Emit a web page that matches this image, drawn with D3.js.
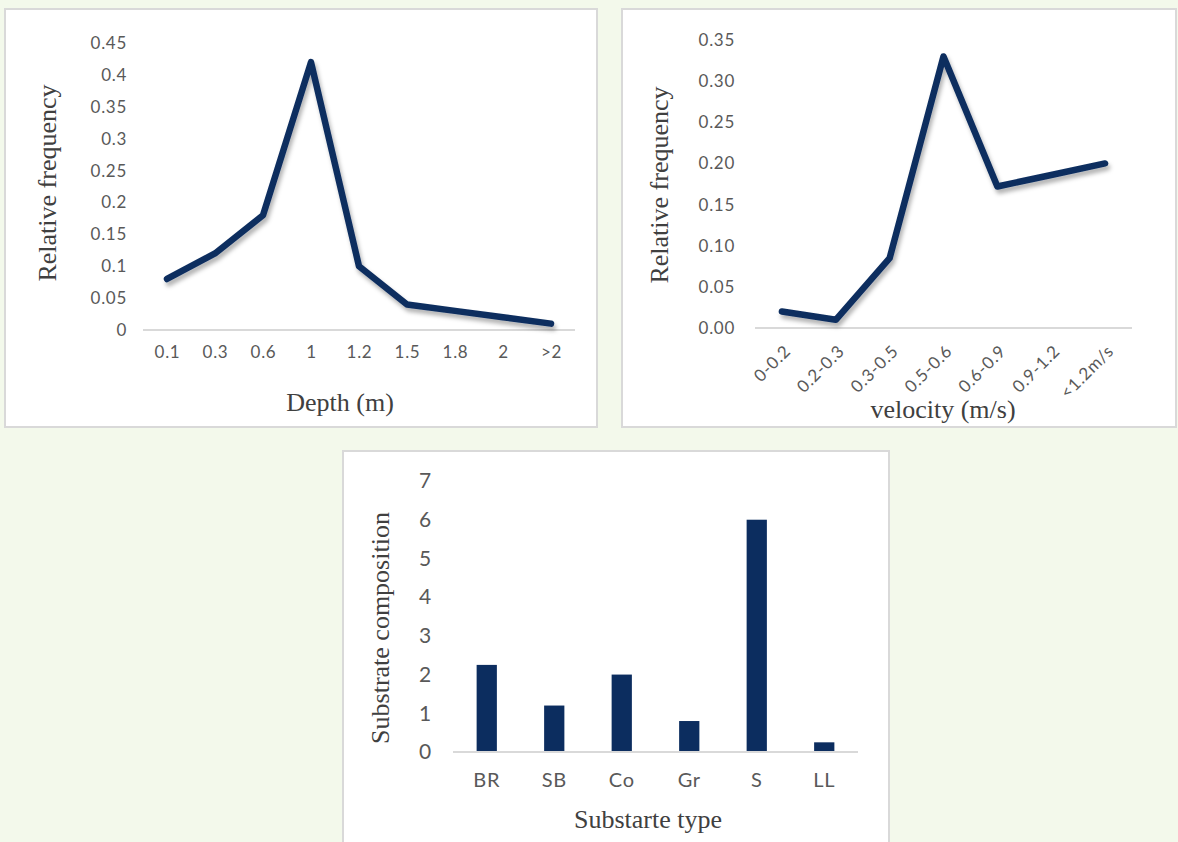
<!DOCTYPE html>
<html>
<head>
<meta charset="utf-8">
<script src="https://cdn.jsdelivr.net/npm/d3@7"></script>
<style>
  body { margin: 0; background: #f3f9eb; }
  .tick text { font-family: Lato, "Open Sans", sans-serif; font-size: 17px; fill: #595959; letter-spacing: 0.7px; }
  .title { font-family: "Liberation Serif", "Times New Roman", serif; font-size: 26px; fill: #404040; }
</style>
</head>
<body>
<script>
// Depth chart
let depthCats = ["0.1", "0.3", "0.6", "1", "1.2", "1.5", "1.8", "2", ">2"];
let depthVals = [0.08, 0.12, 0.18, 0.42, 0.10, 0.04, 0.03, 0.02, 0.01];
let depthTicks = [0, 0.05, 0.1, 0.15, 0.2, 0.25, 0.3, 0.35, 0.4, 0.45];

// Velocity chart
let velCats = ["0-0.2", "0.2-0.3", "0.3-0.5", "0.5-0.6", "0.6-0.9", "0.9-1.2", "<1.2m/s"];
let velVals = [0.02, 0.01, 0.085, 0.33, 0.172, 0.186, 0.20];
let velTicks = [0, 0.05, 0.10, 0.15, 0.20, 0.25, 0.30, 0.35];

// Substrate chart
let subCats = ["BR", "SB", "Co", "Gr", "S", "LL"];
let subVals = [2.25, 1.2, 2.0, 0.8, 6.0, 0.25];
let subTicks = [0, 1, 2, 3, 4, 5, 6, 7];

let navy = "#0c2d5f";

let svg = d3.select("body").append("svg")
    .attr("width", 1178)
    .attr("height", 842);

// drop shadow used by the lines
let defs = svg.append("defs");
defs.append("filter")
    .attr("id", "shadow")
    .attr("x", "-10%").attr("y", "-10%")
    .attr("width", "130%").attr("height", "140%")
    .append("feDropShadow")
    .attr("dx", 2).attr("dy", 4)
    .attr("stdDeviation", 2)
    .attr("flood-color", "#000")
    .attr("flood-opacity", 0.3);

// white panels
function panel(x, y, w, h) {
    svg.append("rect")
        .attr("x", x).attr("y", y)
        .attr("width", w).attr("height", h)
        .attr("fill", "#fff")
        .attr("stroke", "#d9d9d9")
        .attr("stroke-width", 2);
}
panel(5, 9, 592, 418);
panel(622, 9, 554, 418);
panel(343, 451, 546, 400);

function yAxis(y, ticks, fmt, xPos) {
    let g = svg.append("g")
        .attr("transform", "translate(" + xPos + ",0)")
        .call(d3.axisLeft(y).tickValues(ticks).tickFormat(fmt).tickSize(0).tickPadding(0));
    g.select(".domain").remove();
    return g;
}

function baseline(x0, x1, yv) {
    svg.append("line")
        .attr("x1", x0).attr("x2", x1)
        .attr("y1", yv).attr("y2", yv)
        .attr("stroke", "#d9d9d9")
        .attr("stroke-width", 2);
}

function title(text, x, y, rotate) {
    svg.append("text")
        .attr("class", "title")
        .attr("text-anchor", "middle")
        .attr("transform", "translate(" + x + "," + y + ")" + (rotate ? " rotate(-90)" : ""))
        .text(text);
}

// ---- Depth ----
let x1 = d3.scalePoint().domain(depthCats).range([143, 575]).padding(0.5);
let y1 = d3.scaleLinear().domain([0, 0.45]).range([330, 43]);

yAxis(y1, depthTicks, d3.format("~g"), 127);
baseline(143, 575, y1(0));

let gx1 = svg.append("g")
    .attr("transform", "translate(0," + 346 + ")")
    .call(d3.axisBottom(x1).tickSize(0).tickPadding(0));
gx1.select(".domain").remove();
gx1.selectAll("text").attr("dy", "0.71em");

svg.append("path")
    .datum(depthVals)
    .attr("fill", "none")
    .attr("stroke", navy)
    .attr("stroke-width", 6.5)
    .attr("stroke-linecap", "round")
    .attr("stroke-linejoin", "round")
    .attr("filter", "url(#shadow)")
    .attr("d", d3.line().x((d, i) => x1(depthCats[i])).y(d => y1(d)));

title("Depth (m)", 340, 411, false);
title("Relative frequency", 56, 183, true);

// ---- Velocity ----
let x2 = d3.scalePoint().domain(velCats).range([755, 1132]).padding(0.5);
let y2 = d3.scaleLinear().domain([0, 0.35]).range([328, 40]);

yAxis(y2, velTicks, d3.format(".2f"), 735);
baseline(755, 1132, y2(0));

let gx2 = svg.append("g")
    .attr("transform", "translate(0," + 338 + ")")
    .call(d3.axisBottom(x2).tickSize(0).tickPadding(0));
gx2.select(".domain").remove();
gx2.selectAll("text")
    .attr("text-anchor", "end")
    .attr("dy", "0.35em")
    .attr("transform", "translate(5,10) rotate(-45)");

svg.append("path")
    .datum(velVals)
    .attr("fill", "none")
    .attr("stroke", navy)
    .attr("stroke-width", 6.5)
    .attr("stroke-linecap", "round")
    .attr("stroke-linejoin", "round")
    .attr("filter", "url(#shadow)")
    .attr("d", d3.line().x((d, i) => x2(velCats[i])).y(d => y2(d)));

title("velocity (m/s)", 943, 418, false);
title("Relative frequency", 668, 185, true);

// ---- Substrate ----
let x3 = d3.scaleBand().domain(subCats).range([453, 858]).paddingInner(0.7).paddingOuter(0.35);
let y3 = d3.scaleLinear().domain([0, 7]).range([752, 481]);

let gy3 = yAxis(y3, subTicks, d3.format("d"), 432);
gy3.selectAll("text").style("font-size", "21px");

svg.append("g")
    .selectAll("rect")
    .data(subVals)
    .join("rect")
    .attr("x", (d, i) => x3(subCats[i]))
    .attr("y", d => y3(d))
    .attr("width", x3.bandwidth())
    .attr("height", d => y3(0) - y3(d))
    .attr("fill", navy);

baseline(453, 858, y3(0));

let gx3 = svg.append("g")
    .attr("transform", "translate(0," + 773 + ")")
    .call(d3.axisBottom(x3).tickSize(0).tickPadding(0));
gx3.select(".domain").remove();
gx3.selectAll("text").attr("dy", "0.71em").style("font-size", "20px");

title("Substarte type", 648, 828, false);
title("Substrate composition", 389, 628, true);
</script>
</body>
</html>
